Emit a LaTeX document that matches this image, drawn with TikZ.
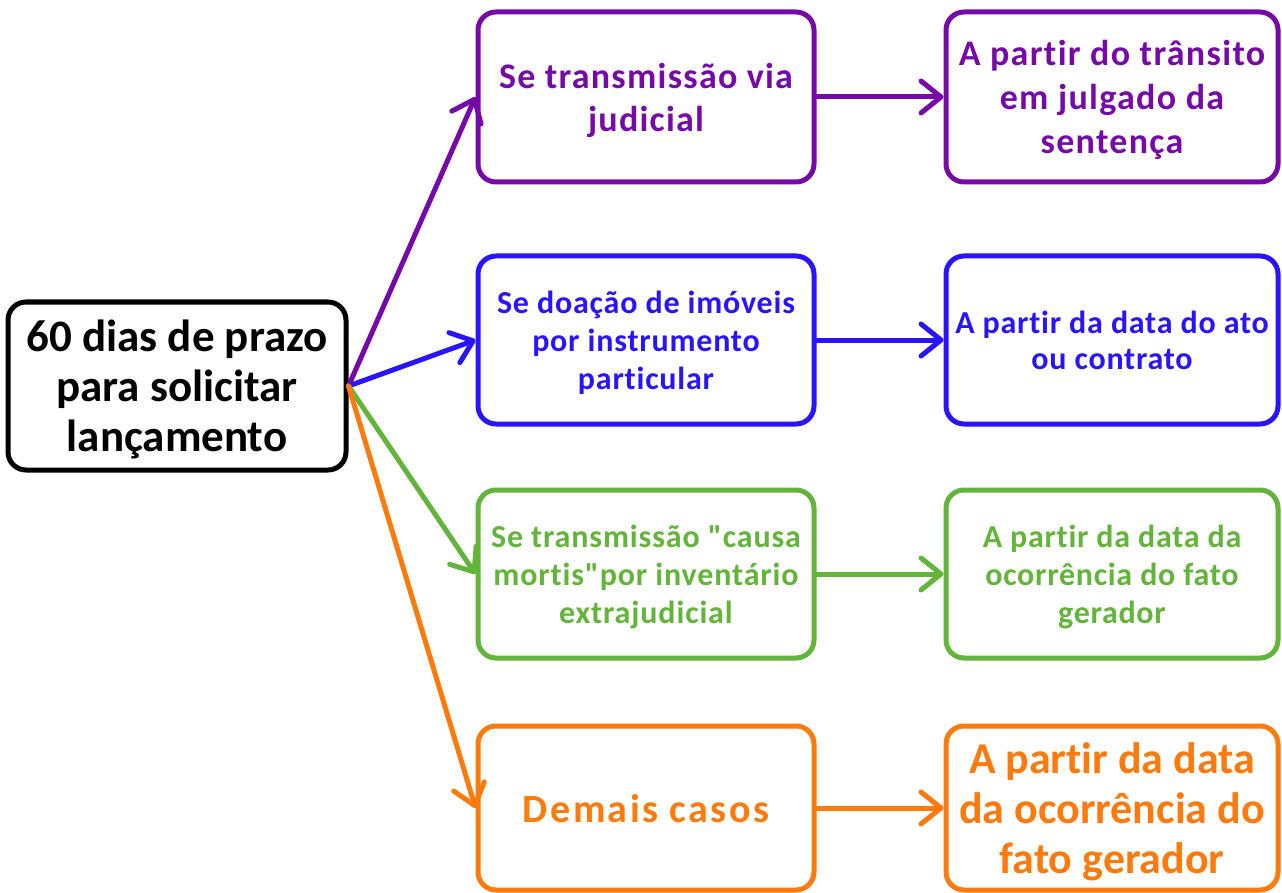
\documentclass[tikz,border=0pt]{standalone}
\usepackage{fontspec}
\newfontfamily\carl{Carlito}[Ligatures=NoCommon]
\usetikzlibrary{arrows.meta}
\definecolor{cpurple}{RGB}{118,10,168}
\definecolor{cblue}{RGB}{40,20,255}
\definecolor{cgreen}{RGB}{98,180,58}
\definecolor{corange}{RGB}{255,122,12}
\newcommand{\myfs}[3]{\carl\bfseries\fontsize{#1}{#2}\selectfont\addfontfeature{LetterSpace=#3}}
\tikzset{
  box/.style={draw, line width=5pt, rounded corners=18pt, align=center, inner sep=0pt, text depth=0pt},
  c2box/.style={box, minimum width=336pt, minimum height=168pt},
  c3box/.style={box, minimum width=332pt, minimum height=168pt},
  conn/.style={line width=5pt, line cap=round, -{Straight Barb[length=20pt,width=32pt,round]}},
}
\begin{document}
\begin{tikzpicture}[x=1pt,y=-1pt]
\useasboundingbox (0,0) rectangle (1282,893);
\node[box, minimum width=338pt, minimum height=168pt, font=\myfs{45}{50}{0}] (L) at (177,386) {60 dias de prazo\\para solicitar\\lançamento};
% column 2
\node[c2box, draw=cpurple, text=cpurple, minimum height=170pt, font=\myfs{36}{43}{3.5}] (a1) at (646,97) {Se transmissão via\\judicial};
\node[c2box, draw=cblue, text=cblue, font=\myfs{32}{38}{2.5}] (b1) at (646,340) {Se doação de imóveis\\por instrumento\\particular};
\node[c2box, draw=cgreen, text=cgreen, font=\myfs{32}{38}{2.7}] (g1) at (646,574) {Se transmissão "causa\\mortis"por inventário\\extrajudicial};
\node[c2box, draw=corange, text=corange, minimum height=164pt, font=\myfs{40}{50}{6}] (o1) at (646,808) {Demais casos};
% column 3
\node[c3box, draw=cpurple, text=cpurple, minimum height=170pt, font=\myfs{36}{44}{3.7}] (a2) at (1112,97) {A partir do trânsito\\em julgado da\\sentença};
\node[c3box, draw=cblue, text=cblue, font=\myfs{32}{36}{2.4}] (b2) at (1112,340) {A partir da data do ato\\ou contrato};
\node[c3box, draw=cgreen, text=cgreen, font=\myfs{32}{38}{2.3}] (g2) at (1112,574) {A partir da data da\\ocorrência do fato\\gerador};
\node[c3box, draw=corange, text=corange, minimum height=164pt, font=\myfs{44}{50}{0}] (o2) at (1112,808) {A partir da data\\da ocorrência do\\fato gerador};
% connectors
\draw[conn, cpurple] (L.east) -- (a1.west);
\draw[conn, cblue] (L.east) -- (b1.west);
\draw[conn, cgreen] (L.east) -- (g1.west);
\draw[conn, corange] (L.east) -- (o1.west);
\draw[conn, cpurple] (a1.east) -- (a2.west);
\draw[conn, cblue] (b1.east) -- (b2.west);
\draw[conn, cgreen] (g1.east) -- (g2.west);
\draw[conn, corange] (o1.east) -- (o2.west);
\end{tikzpicture}
\end{document}
